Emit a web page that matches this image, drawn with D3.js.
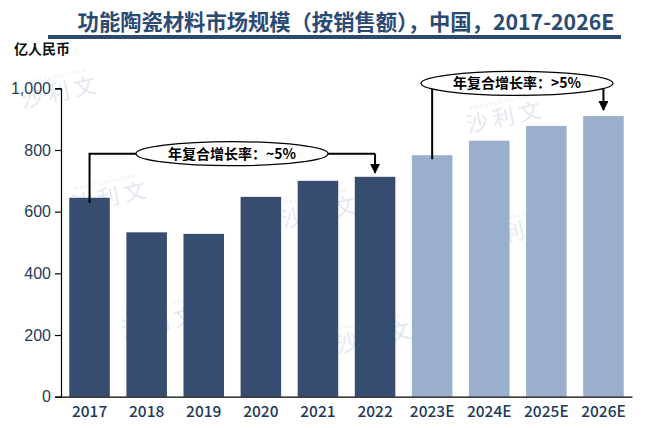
<!DOCTYPE html>
<html>
<head>
<meta charset="utf-8">
<script src="https://cdn.jsdelivr.net/npm/d3@7"></script>
<style>
  body { margin: 0; background: #fff; }
  svg { display: block; }
</style>
</head>
<body>
<div id="chart"></div>
<script>
// chart data
const years = ['2017', '2018', '2019', '2020', '2021', '2022', '2023E', '2024E', '2025E', '2026E'];
const values = [645, 533, 528, 648, 700, 713, 783, 830, 878, 910];
const forecast = [false, false, false, false, false, false, true, true, true, true];
const yTicks = [0, 200, 400, 600, 800, 1000];

const title = '功能陶瓷材料市场规模（按销售额），中国，2017-2026E';
const unitLabel = '亿人民币';
const cagrLabels = ['年复合增长率：~5%', '年复合增长率：>5%'];

const width = 660, height = 428;
const cjk = '"Noto Sans CJK SC", "Noto Sans", sans-serif';

const svg = d3.select('#chart').append('svg')
    .attr('width', width).attr('height', height);

// arrow marker
svg.append('defs').append('marker')
    .attr('id', 'arrow')
    .attr('viewBox', '0 0 10 10')
    .attr('refX', 9).attr('refY', 5)
    .attr('markerWidth', 5).attr('markerHeight', 5)
    .attr('orient', 'auto')
    .append('path').attr('d', 'M0,0 L10,5 L0,10 Z').attr('fill', '#000');

// faint watermarks
const marks = [[60, 100], [110, 205], [505, 125], [515, 240], [375, 345], [160, 330], [320, 220]];
const wm = svg.append('g').attr('id', 'watermark');
marks.forEach(m => {
    const g = wm.append('g').attr('transform', `translate(${m[0]},${m[1]}) rotate(-12)`);
    g.append('text')
        .attr('text-anchor', 'middle')
        .attr('font-family', cjk).attr('font-size', 22)
        .attr('fill', '#e4e8ef')
        .text('沙 利 文');
    g.append('text')
        .attr('text-anchor', 'middle').attr('y', -22)
        .attr('font-family', 'Liberation Sans, sans-serif').attr('font-size', 5)
        .attr('fill', '#e6e9ef')
        .text('F R O S T  &  S U L L I V A N');
});

// title and underline
svg.append('text')
    .attr('x', 346).attr('y', 30)
    .attr('text-anchor', 'middle')
    .attr('font-family', cjk).attr('font-weight', 700).attr('font-size', 21.3)
    .attr('fill', '#2b4a73')
    .text(title);
svg.append('rect')
    .attr('x', 48).attr('y', 35).attr('width', 573).attr('height', 4)
    .attr('fill', '#2c4a6e');

svg.append('text')
    .attr('x', 14).attr('y', 54)
    .attr('font-family', cjk).attr('font-weight', 700).attr('font-size', 14)
    .attr('fill', '#111')
    .text(unitLabel);

// scales
const x = d3.scaleBand()
    .domain(years)
    .range([61, 632])
    .paddingInner(0.29)
    .paddingOuter(0.145);

const y = d3.scaleLinear()
    .domain([0, 1000])
    .range([396.7, 88.3]);

// bars
svg.append('g').selectAll('rect')
    .data(years)
    .enter()
    .append('rect')
    .attr('x', d => x(d))
    .attr('y', (d, i) => y(values[i]))
    .attr('width', x.bandwidth())
    .attr('height', (d, i) => y(0) - y(values[i]))
    .attr('fill', (d, i) => forecast[i] ? '#9aaecd' : '#364d70');

// y axis
const yAxis = svg.append('g')
    .attr('transform', 'translate(61,0)')
    .call(d3.axisLeft(y).tickValues(yTicks).tickSize(6).tickFormat(d3.format(',')));
yAxis.select('.domain').attr('stroke', '#000').attr('stroke-width', 1.2);
yAxis.selectAll('.tick line').attr('stroke', '#000').attr('stroke-width', 1.2);
yAxis.selectAll('.tick text')
    .attr('x', -10)
    .attr('font-family', 'Liberation Sans, Arial, sans-serif')
    .attr('font-size', 16)
    .attr('fill', '#253b5a');

// x axis
const xAxis = svg.append('g')
    .attr('transform', 'translate(0,' + y(0) + ')')
    .call(d3.axisBottom(x).tickSize(0).tickSizeOuter(0));
xAxis.select('.domain').attr('stroke', '#000').attr('stroke-width', 1.2);
xAxis.selectAll('.tick text')
    .attr('dy', '1.05em')
    .attr('y', 4)
    .attr('font-family', cjk).attr('font-weight', 500)
    .attr('font-size', 15.5)
    .attr('fill', '#21385a');

// CAGR annotations
const cx = d => x(d) + x.bandwidth() / 2;
const ann = svg.append('g').attr('id', 'annotations')
    .attr('fill', 'none').attr('stroke', '#000').attr('stroke-width', 2);

// 2017 - 2022
const yA = y(788);
ann.append('path')
    .attr('d', `M${cx('2017')},${y(values[0]) + 5} V${yA} H${cx('2022')}`);
ann.append('path')
    .attr('d', `M${cx('2022')},${yA} V${y(values[5]) - 4}`)
    .attr('marker-end', 'url(#arrow)');
ann.append('ellipse')
    .attr('cx', 232).attr('cy', yA).attr('rx', 96).attr('ry', 12)
    .attr('fill', '#fff').attr('stroke-width', 1.3);
svg.append('text')
    .attr('x', 232).attr('y', yA + 5)
    .attr('text-anchor', 'middle')
    .attr('font-family', cjk).attr('font-weight', 700).attr('font-size', 14)
    .attr('fill', '#000')
    .text(cagrLabels[0]);

// 2023E - 2026E
const yB = y(1016);
ann.append('path')
    .attr('d', `M${cx('2023E')},${y(values[6]) + 4} V${yB}`);
ann.append('path')
    .attr('d', `M${cx('2026E')},${yB} V${y(values[9]) - 6}`)
    .attr('marker-end', 'url(#arrow)');
ann.append('ellipse')
    .attr('cx', 517).attr('cy', yB).attr('rx', 96).attr('ry', 12)
    .attr('fill', '#fff').attr('stroke-width', 1.3);
svg.append('text')
    .attr('x', 517).attr('y', yB + 5)
    .attr('text-anchor', 'middle')
    .attr('font-family', cjk).attr('font-weight', 700).attr('font-size', 14)
    .attr('fill', '#000')
    .text(cagrLabels[1]);
</script>
</body>
</html>
